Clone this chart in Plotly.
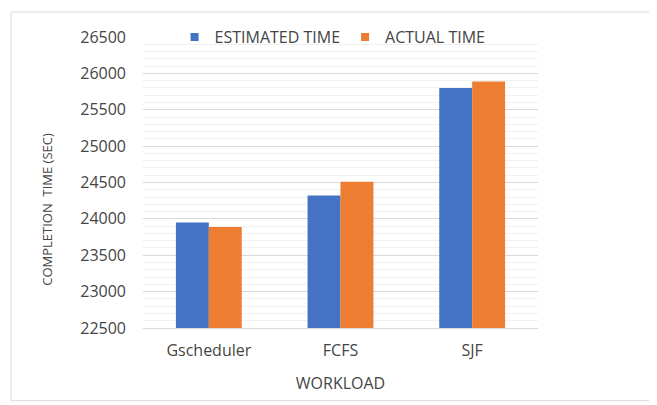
import plotly.graph_objects as go

categories = ["Gscheduler", "FCFS", "SJF"]
estimated_time = [23950, 24320, 25800]
actual_time = [23890, 24510, 25890]
y_ticks = [22500, 23000, 23500, 24000, 24500, 25000, 25500, 26000, 26500]

FONT = "Open Sans"
GREY = "#454545"
BLUE = "#4472C4"
ORANGE = "#ED7D31"

fig = go.Figure()
fig.add_trace(go.Bar(name="ESTIMATED TIME", x=categories, y=estimated_time,
                     marker=dict(color=BLUE, line=dict(width=0)), showlegend=False))
fig.add_trace(go.Bar(name="ACTUAL TIME", x=categories, y=actual_time,
                     marker=dict(color=ORANGE, line=dict(width=0)), showlegend=False))
# legend entries with small square keys
fig.add_trace(go.Scatter(name="ESTIMATED TIME", x=[None], y=[None], mode="markers",
                         marker=dict(symbol="square", size=8, color=BLUE)))
fig.add_trace(go.Scatter(name="ACTUAL TIME", x=[None], y=[None], mode="markers",
                         marker=dict(symbol="square", size=8, color=ORANGE)))

fig.update_layout(
    width=649, height=397,
    margin=dict(l=135, r=119, t=24, b=77),
    paper_bgcolor="white", plot_bgcolor="white",
    barmode="group", bargap=0.5, bargroupgap=0,
    font=dict(family=FONT, color=GREY, size=16),
    showlegend=True,
    legend=dict(orientation="h", x=0.48, xanchor="center", y=1.0, yanchor="middle",
                bgcolor="rgba(0,0,0,0)", font=dict(size=16, color=GREY),
                itemwidth=30, tracegroupgap=0),
    xaxis=dict(showgrid=False, showline=True, linecolor="#d9d9d9", linewidth=1,
               ticks="", tickfont=dict(size=16, color=GREY), ticklabelstandoff=8,
               title=dict(text="WORKLOAD", font=dict(size=16, color=GREY), standoff=17)),
    yaxis=dict(range=[22500, 26500], tickvals=y_ticks, ticktext=[str(v) for v in y_ticks],
               showgrid=True, gridcolor="#d9d9d9", gridwidth=1,
               minor=dict(dtick=100, showgrid=True, gridcolor="#f0f0f0", gridwidth=1),
               zeroline=False, showline=False, ticks="",
               tickfont=dict(size=16, color=GREY), ticklabelstandoff=16),
    annotations=[dict(text="COMPLETION  TIME (SEC)", textangle=-90, showarrow=False,
                      xref="paper", yref="paper", x=-0.2418, y=0.408,
                      xanchor="center", yanchor="middle",
                      font=dict(size=13, color=GREY))],
    shapes=[dict(type="rect", xref="paper", yref="paper",
                 x0=-0.334, x1=1.2987, y0=-0.25, y1=1.086,
                 line=dict(color="#d9d9d9", width=1), layer="below")],
)

fig.write_html("out.html")
